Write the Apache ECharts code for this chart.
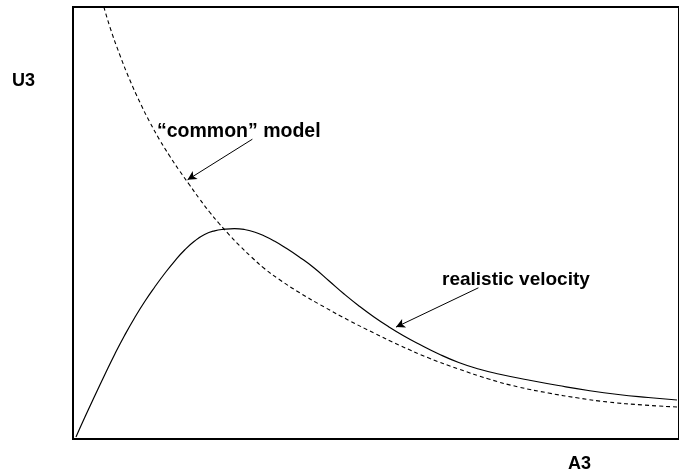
<!DOCTYPE html>
<html>
<head>
<meta charset="utf-8">
<script src="https://cdn.jsdelivr.net/npm/echarts@6/dist/echarts.min.js"></script>
<style>
  html, body { margin: 0; padding: 0; background: #fff; }
  #chart { width: 679px; height: 472px; }
</style>
</head>
<body>
<div id="chart"></div>
<script>
// Realistic velocity profile (solid curve): [A3, U3]
const realisticVelocity = [
  [0.049, 0.046], [0.197, 0.509], [0.362, 1.007], [0.526, 1.493], [0.691, 1.968],
  [0.855, 2.407], [1.020, 2.813], [1.184, 3.183], [1.349, 3.519], [1.513, 3.831],
  [1.678, 4.120], [1.842, 4.375], [2.007, 4.583], [2.171, 4.734], [2.336, 4.819],
  [2.500, 4.856], [2.664, 4.870], [2.829, 4.850], [2.993, 4.792], [3.158, 4.699],
  [3.322, 4.583], [3.487, 4.444], [3.734, 4.213], [3.980, 3.958], [4.227, 3.657],
  [4.474, 3.356], [4.720, 3.079], [4.967, 2.824], [5.214, 2.593], [5.461, 2.384],
  [5.707, 2.199], [6.036, 1.968], [6.365, 1.771], [6.694, 1.620], [7.023, 1.505],
  [7.516, 1.366], [8.010, 1.238], [8.503, 1.123], [8.997, 1.030], [9.490, 0.961],
  [9.967, 0.903]
];

// "common" model (dashed curve): [A3, U3]
const commonModel = [
  [0.510, 10.0], [0.609, 9.537], [0.773, 8.889], [0.938, 8.310], [1.102, 7.801],
  [1.266, 7.338], [1.431, 6.921], [1.595, 6.551], [1.760, 6.204], [1.924, 5.880],
  [2.089, 5.556], [2.253, 5.255], [2.418, 4.977], [2.582, 4.722], [2.747, 4.479],
  [2.944, 4.213], [3.158, 3.947], [3.405, 3.692], [3.734, 3.391], [4.145, 3.056],
  [4.556, 2.743], [4.967, 2.454], [5.378, 2.176], [5.872, 1.875], [6.365, 1.620],
  [6.859, 1.389], [7.352, 1.204], [7.845, 1.065], [8.339, 0.949], [8.832, 0.856],
  [9.408, 0.787], [9.967, 0.741]
];

// Annotation arrows: [from, to] in data units
const commonArrow = [[2.96, 6.94], [1.89, 6.00]];
const realisticArrow = [[6.69, 3.50], [5.33, 2.59]];

// Text labels
const axisLabelX = 'A3';
const axisLabelY = 'U3';
const commonLabel = '\u201Ccommon\u201D model';
const realisticLabel = 'realistic velocity';

const chart = echarts.init(document.getElementById('chart'), null, { renderer: 'canvas' });
const font = '"Liberation Sans", Arial, sans-serif';
const label = (txt, x, y, size) => ({
  type: 'text', left: x, top: y,
  style: { text: txt, font: 'bold ' + size + 'px ' + font, fill: '#000', verticalAlign: 'top' }
});

chart.setOption({
  animation: false,
  backgroundColor: '#fff',
  grid: {
    left: 73, top: 7, height: 432, right: -2,
    show: true, borderColor: '#000', borderWidth: 2, backgroundColor: 'transparent'
  },
  xAxis: {
    type: 'value', min: 0, max: 10,
    axisLine: { show: false }, axisTick: { show: false },
    axisLabel: { show: false }, splitLine: { show: false }
  },
  yAxis: {
    type: 'value', min: 0, max: 10,
    axisLine: { show: false }, axisTick: { show: false },
    axisLabel: { show: false }, splitLine: { show: false }
  },
  series: [
    {
      type: 'line', data: realisticVelocity, smooth: 0.5, symbol: 'none',
      lineStyle: { color: '#000', width: 1.2 },
      markLine: {
        silent: true, symbol: ['none', 'arrow'], symbolSize: [7, 9],
        label: { show: false },
        lineStyle: { color: '#000', width: 1, type: 'solid' },
        data: [[{ coord: realisticArrow[0] }, { coord: realisticArrow[1] }]]
      }
    },
    {
      type: 'line', data: commonModel, smooth: 0.5, symbol: 'none',
      lineStyle: { color: '#000', width: 1.1, type: [4, 3] },
      markLine: {
        silent: true, symbol: ['none', 'arrow'], symbolSize: [7, 9],
        label: { show: false },
        lineStyle: { color: '#000', width: 1, type: 'solid' },
        data: [[{ coord: commonArrow[0] }, { coord: commonArrow[1] }]]
      }
    }
  ],
  graphic: [
    label(axisLabelY, 12, 72, 18),
    label(axisLabelX, 568, 455, 18),
    label(commonLabel, 157, 122, 19.5),
    label(realisticLabel, 442, 270, 19)
  ]
});
</script>
</body>
</html>
